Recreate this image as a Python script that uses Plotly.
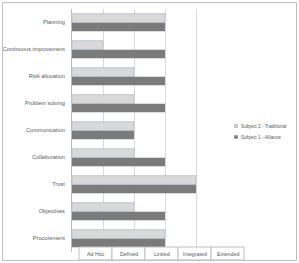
import plotly.graph_objects as go

categories = ["Planning", "Continuous improvement", "Risk allocation", "Problem solving",
              "Communication", "Collaboration", "Trust", "Objectives", "Procurement"]
subject2_traditional = [3, 1, 2, 2, 2, 2, 4, 2, 3]
subject1_alliance = [3, 3, 3, 3, 2, 3, 4, 3, 3]
level_labels = ["Ad Hoc", "Defined", "Linked", "Integrated", "Extended"]
series_names = ["Subject 2 - Traditional", "Subject 1 - Alliance"]

W, H = 299, 263
L, R, T, B = 72, 72, 9, 11
pw = W - L - R
ph = H - T - B

def px_x(p):
    return (p - L) / pw

def px_y(p):
    return (H - B - p) / ph

font_family = "Liberation Sans, Arial"
light, dark = "#d9d9d9", "#7b7b7b"
series_colors = [light, dark]

fig = go.Figure()
fig.add_trace(go.Bar(
    y=categories, x=subject2_traditional, orientation="h",
    name=series_names[0],
    marker=dict(color=light, line=dict(color="#b8c2d6", width=0.8)),
))
fig.add_trace(go.Bar(
    y=categories, x=subject1_alliance, orientation="h",
    name=series_names[1],
    marker=dict(color=dark, line=dict(width=0)),
))

fig.update_layout(
    width=W, height=H,
    margin=dict(l=L, r=R, t=T, b=B, autoexpand=False),
    paper_bgcolor="white", plot_bgcolor="white",
    barmode="group", bargap=0.33, bargroupgap=0.04,
    showlegend=False,
    font=dict(family=font_family, size=5.6, color="#595959"),
)
fig.update_xaxes(range=[0, 5], dtick=1, showgrid=True, gridcolor="#d9d9d9", gridwidth=1,
                 showticklabels=False, zeroline=False, showline=False, fixedrange=True)
fig.update_yaxes(autorange="reversed", showline=True, linecolor="#bfbfbf", linewidth=1,
                 ticks="", tickfont=dict(size=5.6, color="#595959"), ticklabelstandoff=5,
                 fixedrange=True)

# outer chart border
fig.add_shape(type="rect", xref="paper", yref="paper",
              x0=px_x(2.5), x1=px_x(296.5), y0=px_y(260.5), y1=px_y(2.5),
              line=dict(color="#bfbfbf", width=1), fillcolor="rgba(0,0,0,0)")

# manual legend (small square keys)
legend_rows = [126, 137]
for name, col, yy in zip(series_names, series_colors, legend_rows):
    fig.add_shape(type="rect", xref="paper", yref="paper",
                  x0=px_x(234.5), x1=px_x(237.5), y0=px_y(yy + 1.5), y1=px_y(yy - 1.5),
                  line=dict(color="#8c8c8c" if col == light else col, width=0.5), fillcolor=col)
    fig.add_annotation(text=name, xref="paper", yref="paper",
                       x=px_x(239), y=px_y(yy), xanchor="left", yanchor="middle",
                       showarrow=False,
                       font=dict(size=4.7, color="#595959", family=font_family))

# boxed level labels below the plot
box_start, box_w = 79, 33
for i, lab in enumerate(level_labels):
    x0 = box_start + box_w * i
    fig.add_shape(type="rect", xref="paper", yref="paper",
                  x0=px_x(x0), x1=px_x(x0 + box_w), y0=px_y(260), y1=px_y(247),
                  line=dict(color="#bfbfbf", width=1), fillcolor="white")
    fig.add_annotation(text=lab, xref="paper", yref="paper",
                       x=px_x(x0 + box_w / 2), y=px_y(253.5), xanchor="center", yanchor="middle",
                       showarrow=False,
                       font=dict(size=5.3, color="#595959", family=font_family))

fig.write_html("out.html")
